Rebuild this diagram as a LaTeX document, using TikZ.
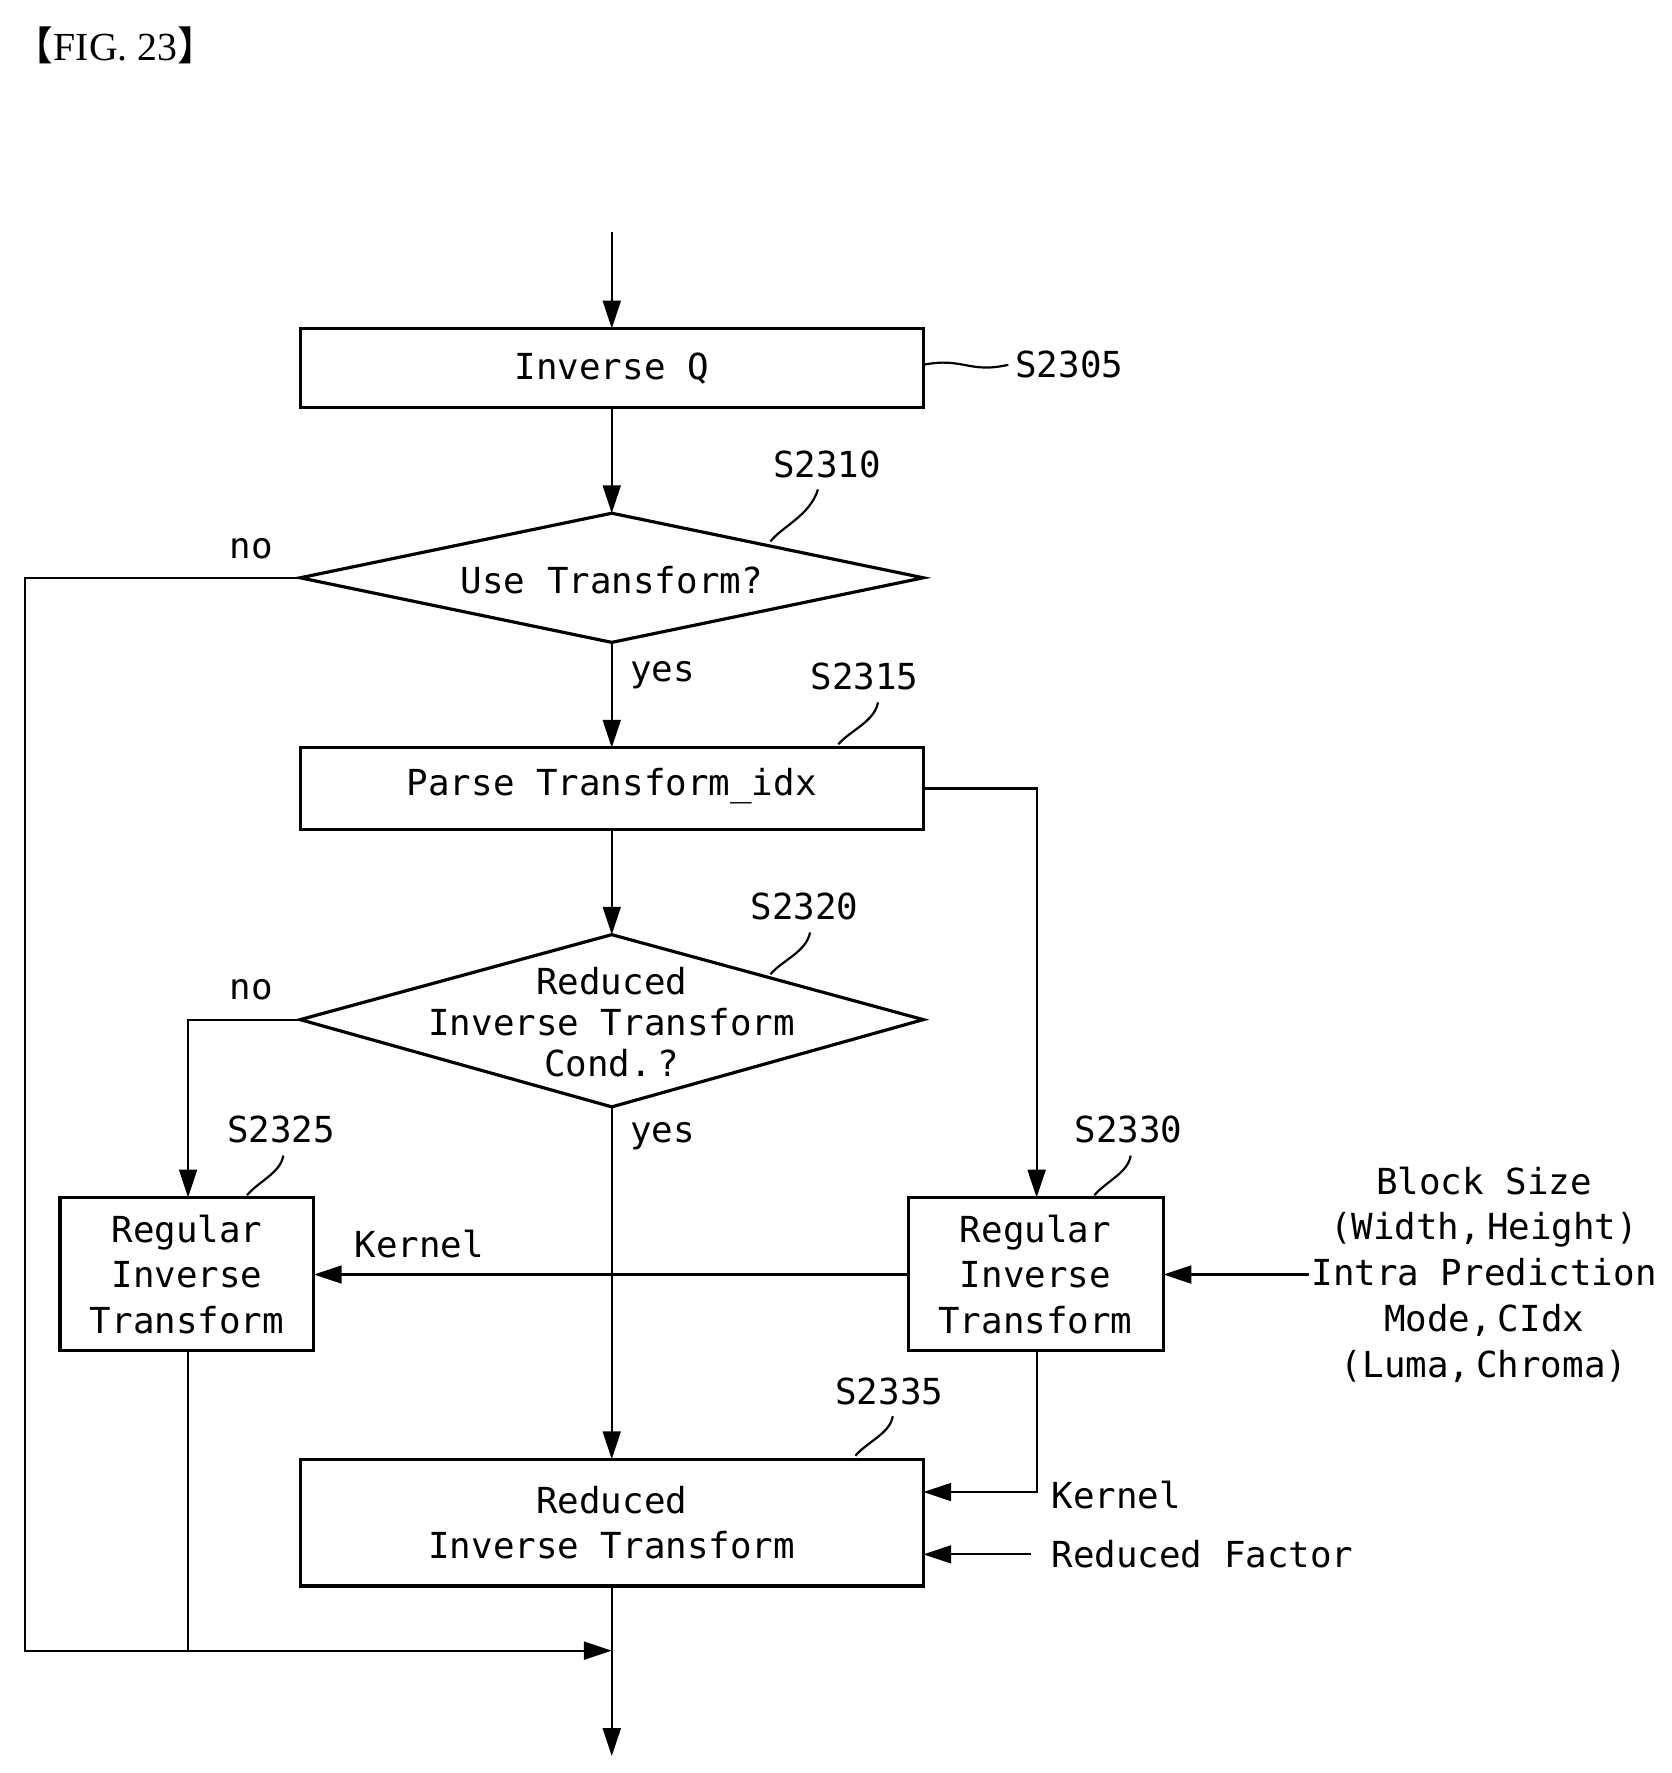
\documentclass[tikz,border=0pt]{standalone}
\usepackage{fontspec}
\setmainfont{DejaVu Sans Mono}
\newfontfamily\titlefont{Liberation Serif}
\newfontfamily\cjk{Noto Sans CJK SC}
\usetikzlibrary{arrows.meta}
\begin{document}
\begin{tikzpicture}[x=0.02cm,y=-0.02cm,
  every node/.style={font=\fontsize{18}{23}\selectfont},
  box/.style={draw,line width=1.6pt,inner sep=0},
  ln/.style={line width=1.1pt},
  arr/.style={ln,-{Triangle[length=14pt,width=9pt]}},
  lbl/.style={align=center,inner sep=1pt}]
\useasboundingbox (0,0) rectangle (1475,1565);
\node[anchor=west,font=\titlefont\fontsize{20}{24}\selectfont,inner sep=0] (title) at (12,40) {{\cjk 【}FIG. 23{\cjk 】}};
\coordinate (start) at (540,205);
\draw[box] (265,290) rectangle (815,360);
\node (q) at (540,325) {Inverse Q};
\coordinate (qt) at (540,290); \coordinate (qb) at (540,360); \coordinate (qr) at (815,322);
\draw[box] (265,510) coordinate (d1l) -- (540,453) coordinate (d1t) -- (815,510) coordinate (d1r) -- (540,567) coordinate (d1b) -- cycle;
\node (d1) at (540,512) {Use Transform?};
\draw[box] (265,660) rectangle (815,732);
\node (p) at (540,694) {Parse Transform\_idx};
\coordinate (pt) at (540,660); \coordinate (pb) at (540,732); \coordinate (pr) at (815,696);
\draw[box] (265,900) coordinate (d2l) -- (540,825) coordinate (d2t) -- (815,900) coordinate (d2r) -- (540,977) coordinate (d2b) -- cycle;
\node[lbl,font=\fontsize{18}{20.5}\selectfont] (d2) at (540,902) {Reduced\\Inverse Transform\\Cond.\,?};
\draw[box] (53,1057) rectangle (277,1192);
\node[lbl] (l) at (165,1125) {Regular\\Inverse\\Transform};
\coordinate (lt) at (166,1057); \coordinate (lr) at (277,1125); \coordinate (lb) at (166,1192);
\draw[box] (802,1057) rectangle (1027,1192);
\node[lbl] (r) at (914,1125) {Regular\\Inverse\\Transform};
\coordinate (rt) at (915,1057); \coordinate (rl) at (802,1125); \coordinate (rr) at (1027,1125); \coordinate (rb) at (915,1192);
\draw[box] (265,1288) rectangle (815,1400);
\node[lbl] (b) at (540,1344) {Reduced\\Inverse Transform};
\coordinate (bt) at (540,1288); \coordinate (bb) at (540,1400);
\coordinate (bk) at (815,1317); \coordinate (bf) at (815,1372);
\coordinate (end) at (540,1550); \coordinate (merge) at (540,1457);
\node[lbl] (side) at (1310,1125) {Block Size\\(Width,\,Height)\\Intra Prediction\\Mode,\,CIdx\\(Luma,\,Chroma)};
\coordinate (sidel) at (1155,1125);
\node[anchor=west] (k2) at (922,1320) {Kernel};
\node[anchor=west] (rf) at (922,1372) {Reduced Factor};
\node (k1) at (370,1098) {Kernel};
\node (no1) at (222,484) {no};
\node (no2) at (222,874) {no};
\node (y1) at (585,596) {yes};
\node (y2) at (585,1003) {yes};
\node[anchor=west] (s05) at (890,322) {S2305};
\node (s10) at (730,410) {S2310};
\node (s15) at (763,597) {S2315};
\node (s20) at (710,800) {S2320};
\node (s25) at (248,997) {S2325};
\node (s30) at (996,997) {S2330};
\node (s35) at (785,1228) {S2335};
\draw[ln] (qr) .. controls (850,315) and (855,330) .. (s05.west);
\draw[ln] (680,478) .. controls (690,465) and (715,455) .. (722,432);
\draw[ln] (740,657) .. controls (750,645) and (772,637) .. (775,620);
\draw[ln] (680,860) .. controls (690,848) and (712,840) .. (715,823);
\draw[ln] (218,1055) .. controls (228,1043) and (248,1035) .. (250,1020);
\draw[ln] (966,1055) .. controls (976,1043) and (996,1035) .. (998,1020);
\draw[ln] (755,1285) .. controls (765,1273) and (786,1265) .. (788,1250);
\draw[arr] (start) -- (qt);
\draw[arr] (qb) -- (d1t);
\draw[arr] (d1b) -- (pt);
\draw[arr] (pb) -- (d2t);
\draw[arr] (d2b) -- (bt);
\draw[arr] (pr) -| (rt);
\draw[arr] (d2l) -| (lt);
\draw[arr] (rl) -- (lr);
\draw[arr] (sidel) -- (rr);
\draw[arr] (rb) |- (bk);
\draw[arr] (910,1372) coordinate (rfs) -- (bf);
\draw[arr] (d1l) -- (22,510) -- (22,1457) -- (merge);
\draw[ln] (lb) -- (166,1457);
\draw[arr] (bb) -- (end);
\end{tikzpicture}
\end{document}
